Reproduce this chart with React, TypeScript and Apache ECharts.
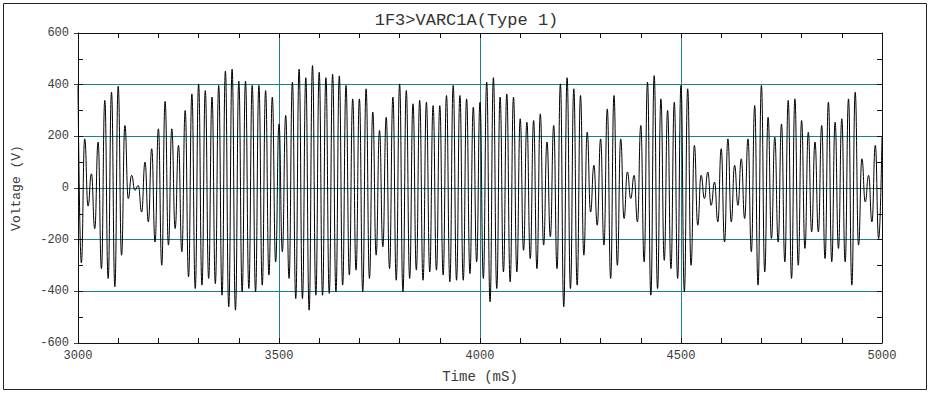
import React, { useEffect, useRef } from "react";
import * as echarts from "echarts";

const TITLE = "1F3>VARC1A(Type 1)";
const X_NAME = "Time (mS)";
const Y_NAME = "Voltage (V)";
const X_MIN = 3000;
const X_MAX = 5000;
const Y_MIN = -600;
const Y_MAX = 600;
// 60 Hz signal: one positive and one negative crest per cycle (half period in ms)
const HALF_PERIOD_MS = 25 / 3;

// positive crests, one per cycle (V)
const upperPeaks = [
  397, 190, 55, 178, 339, 371, 394, 242, 49, 10, 100, 152, 229, 335, 229, 165, 300, 364, 403, 377,
  352, 397, 453, 460, 414, 414, 397, 397, 377, 352, 248, 281, 410, 460, 427, 474, 448, 427, 440, 434,
  397, 345, 345, 384, 294, 223, 274, 352, 403, 377, 326, 339, 332, 319, 319, 358, 397, 358, 345, 313,
  332, 410, 427, 352, 364, 352, 268, 255, 261, 287, 178, 242, 403, 427, 384, 358, 216, 88, 190, 306,
  358, 190, 62, 49, 242, 410, 435, 345, 300, 332, 397, 384, 165, 49, 62, 23, 152, 190, 88, 113,
  190, 319, 397, 274, 197, 248, 339, 345, 261, 216, 178, 242, 332, 255, 268, 345, 371, 113, 49, 165, 197,
];

// negative crests, one per cycle (V)
const lowerPeaks = [
  -290, -70, -157, -312, -350, -382, -260, -41, -9, -93, -131, -209, -299, -221, -157, -247, -344, -389, -376, -350,
  -370, -415, -460, -473, -402, -389, -402, -376, -337, -286, -247, -350, -428, -428, -473, -415, -415, -408, -402, -376,
  -337, -318, -402, -350, -260, -228, -312, -357, -402, -350, -318, -357, -325, -318, -337, -363, -357, -357, -331, -286,
  -350, -440, -389, -325, -363, -325, -241, -273, -312, -221, -189, -312, -460, -389, -376, -260, -93, -144, -221, -350,
  -299, -118, -41, -131, -286, -415, -389, -280, -312, -350, -402, -299, -144, -41, -67, -131, -209, -131, -67, -118,
  -247, -376, -325, -196, -209, -286, -350, -299, -234, -170, -170, -273, -286, -234, -286, -376, -221, -54, -131, -196,
];

const FONT = "Liberation Mono";
const GRID_COLOR = "#1a8484";
const AXIS_COLOR = "#111";
const TEXT_COLOR = "#3a3a3a";

function buildSeries(): [number, number][] {
  const pts: [number, number][] = [];
  for (let i = 0; i < upperPeaks.length; i++) {
    pts.push([X_MIN + 2 * i * HALF_PERIOD_MS, upperPeaks[i]]);
    if (i < lowerPeaks.length) {
      pts.push([X_MIN + (2 * i + 1) * HALF_PERIOD_MS, lowerPeaks[i]]);
    }
  }
  return pts;
}

export default function App() {
  const ref = useRef<HTMLDivElement>(null);

  useEffect(() => {
    if (!ref.current) return;
    const chart = echarts.init(ref.current, undefined, { renderer: "svg" });
    const hiddenLabel = { show: false };
    const plain = (v: number) => String(v);
    const innerTick = { show: true, inside: true, length: 5, lineStyle: { color: AXIS_COLOR } };
    chart.setOption({
      animation: false,
      backgroundColor: "#fff",
      title: {
        text: TITLE,
        left: "center",
        top: 7,
        textStyle: { fontFamily: FONT, fontSize: 17, fontWeight: "normal", color: "#333" },
      },
      graphic: [
        {
          type: "rect",
          shape: { x: 3.5, y: 3.5, width: 923, height: 386 },
          style: { fill: "none", stroke: "#222", lineWidth: 1 },
          silent: true,
        },
      ],
      grid: { left: 78, right: 51, top: 33, bottom: 52, containLabel: false },
      xAxis: [
        {
          type: "value",
          position: "bottom",
          min: X_MIN,
          max: X_MAX,
          interval: 500,
          name: X_NAME,
          nameLocation: "middle",
          nameGap: 27,
          nameTextStyle: { fontFamily: FONT, fontSize: 14, color: TEXT_COLOR },
          axisLine: { show: true, onZero: false, lineStyle: { color: AXIS_COLOR, width: 1 } },
          axisTick: { show: false },
          axisLabel: { fontFamily: FONT, fontSize: 12, color: TEXT_COLOR, margin: 7, formatter: plain },
          splitLine: { show: true, lineStyle: { color: GRID_COLOR, width: 1 } },
        },
        {
          type: "value",
          position: "bottom",
          min: X_MIN,
          max: X_MAX,
          interval: 100,
          axisLine: { show: false, onZero: false },
          axisTick: innerTick,
          axisLabel: hiddenLabel,
          splitLine: { show: false },
        },
        {
          type: "value",
          position: "top",
          min: X_MIN,
          max: X_MAX,
          interval: 100,
          axisLine: { show: true, onZero: false, lineStyle: { color: AXIS_COLOR, width: 1 } },
          axisTick: innerTick,
          axisLabel: hiddenLabel,
          splitLine: { show: false },
        },
      ],
      yAxis: [
        {
          type: "value",
          position: "left",
          min: Y_MIN,
          max: Y_MAX,
          interval: 200,
          name: Y_NAME,
          nameLocation: "middle",
          nameGap: 55,
          nameTextStyle: { fontFamily: FONT, fontSize: 13, color: TEXT_COLOR },
          axisLine: { show: true, onZero: false, lineStyle: { color: AXIS_COLOR, width: 1 } },
          axisTick: { show: true, inside: false, length: 4, lineStyle: { color: "#444" } },
          axisLabel: { fontFamily: FONT, fontSize: 12, color: TEXT_COLOR, margin: 9, formatter: plain },
          splitLine: { show: true, lineStyle: { color: GRID_COLOR, width: 1 } },
        },
        {
          type: "value",
          position: "left",
          min: Y_MIN,
          max: Y_MAX,
          interval: 100,
          axisLine: { show: false, onZero: false },
          axisTick: innerTick,
          axisLabel: hiddenLabel,
          splitLine: { show: false },
        },
        {
          type: "value",
          position: "right",
          min: Y_MIN,
          max: Y_MAX,
          interval: 100,
          axisLine: { show: true, onZero: false, lineStyle: { color: AXIS_COLOR, width: 1 } },
          axisTick: innerTick,
          axisLabel: hiddenLabel,
          splitLine: { show: false },
        },
      ],
      series: [
        {
          type: "line",
          xAxisIndex: 0,
          yAxisIndex: 0,
          data: buildSeries(),
          showSymbol: false,
          symbol: "none",
          smooth: 0.5,
          smoothMonotone: "x",
          lineStyle: { color: "#000", width: 1 },
          silent: true,
        },
      ],
    });
    return () => chart.dispose();
  }, []);

  return (
    <div
      ref={ref}
      style={{ position: "absolute", left: 0, top: 0, width: 933, height: 395, background: "#fff" }}
    />
  );
}
